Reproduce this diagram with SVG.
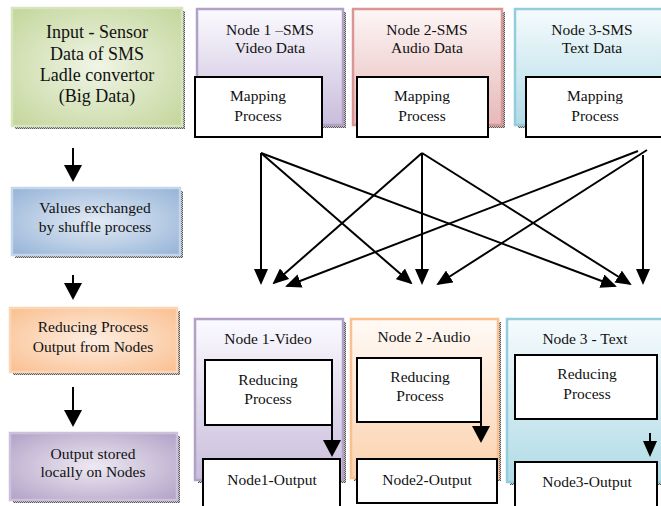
<svg xmlns="http://www.w3.org/2000/svg" width="661" height="506" viewBox="0 0 661 506">
<defs>
<pattern id="dots" width="2" height="2" patternUnits="userSpaceOnUse">
<rect width="2" height="2" fill="#c8c8c8"/><rect width="1" height="1" fill="#555"/><rect x="1" y="1" width="1" height="1" fill="#555"/>
</pattern>
<radialGradient id="gGreen" cx="0.5" cy="0.5" r="0.7"><stop offset="0" stop-color="#f0f5e6"/><stop offset="1" stop-color="#c3d69b"/></radialGradient>
<radialGradient id="gBlue" cx="0.5" cy="0.5" r="0.7"><stop offset="0" stop-color="#e3ebf5"/><stop offset="1" stop-color="#95b3d7"/></radialGradient>
<radialGradient id="gOrange" cx="0.5" cy="0.5" r="0.7"><stop offset="0" stop-color="#fdeee2"/><stop offset="1" stop-color="#fabf8f"/></radialGradient>
<radialGradient id="gPurple" cx="0.5" cy="0.5" r="0.7"><stop offset="0" stop-color="#ede9f2"/><stop offset="1" stop-color="#b2a1c7"/></radialGradient>
<linearGradient id="lPurple" x1="0" y1="0" x2="0" y2="1"><stop offset="0" stop-color="#fbfaff"/><stop offset="1" stop-color="#c9bddb"/></linearGradient>
<linearGradient id="lRed" x1="0" y1="0" x2="0" y2="1"><stop offset="0" stop-color="#fdf6f6"/><stop offset="1" stop-color="#e6b9b8"/></linearGradient>
<linearGradient id="lBlue" x1="0" y1="0" x2="0" y2="1"><stop offset="0" stop-color="#f6fbfd"/><stop offset="1" stop-color="#b0dbe6"/></linearGradient>
<linearGradient id="lOrange" x1="0" y1="0" x2="0" y2="1"><stop offset="0" stop-color="#fffaf6"/><stop offset="1" stop-color="#fbd1ad"/></linearGradient>
<marker id="ah" markerUnits="userSpaceOnUse" markerWidth="16" markerHeight="14" refX="14" refY="7" orient="auto"><path d="M0,0 L16,7 L0,14 z" fill="#000"/></marker>
<marker id="ahBig" markerUnits="userSpaceOnUse" markerWidth="17" markerHeight="18" refX="15" refY="9" orient="auto"><path d="M0,0 L17,9 L0,18 z" fill="#000"/></marker>
</defs>
<style>
text{font-family:"Liberation Serif","Times New Roman",serif;fill:#111;text-anchor:middle}
.big{font-size:18px}
.t{font-size:15.5px}
.shadow{fill:url(#dots)}
.wbox{fill:#fff;stroke:#000;stroke-width:2}
.conn{stroke:#000;stroke-width:2;fill:none}
</style>

<g id="input">
<rect class="shadow" x="15" y="11" width="170" height="118"/>
<rect x="12" y="8" width="170" height="118" fill="url(#gGreen)" stroke="#d7e4bc" stroke-width="2.5"/>
<text class="big" x="97" y="38">Input - Sensor</text>
<text class="big" x="97" y="60">Data of SMS</text>
<text class="big" x="97" y="81">Ladle convertor</text>
<text class="big" x="97" y="102">(Big Data)</text>
</g>

<g id="values">
<rect class="shadow" x="15" y="191" width="168" height="67"/>
<rect x="12" y="188" width="168" height="67" fill="url(#gBlue)" stroke="#c5d6ec" stroke-width="2.5"/>
<text class="t" x="95" y="213">Values exchanged</text>
<text class="t" x="95" y="232">by shuffle process</text>
</g>

<g id="reducing">
<rect class="shadow" x="13" y="311" width="167" height="64"/>
<rect x="10" y="308" width="167" height="64" fill="url(#gOrange)" stroke="#fcd5b5" stroke-width="2.5"/>
<text class="t" x="93" y="332">Reducing Process</text>
<text class="t" x="93" y="352">Output from Nodes</text>
</g>

<g id="output">
<rect class="shadow" x="13" y="436" width="167" height="67"/>
<rect x="10" y="433" width="167" height="67" fill="url(#gPurple)" stroke="#ccc1da" stroke-width="2.5"/>
<text class="t" x="93" y="459">Output stored</text>
<text class="t" x="93" y="477">locally on Nodes</text>
</g>

<g id="node1-map">
<rect class="shadow" x="200" y="12" width="146" height="116"/>
<rect x="197" y="9" width="146" height="116" fill="url(#lPurple)" stroke="#b2a1c7" stroke-width="2.5"/>
<text class="t" x="270" y="35">Node 1 –SMS</text>
<text class="t" x="270" y="53">Video Data</text>
<rect class="wbox" x="195" y="77" width="127" height="60"/>
<text class="t" x="258" y="101">Mapping</text>
<text class="t" x="258" y="121">Process</text>
</g>

<g id="node2-map">
<rect class="shadow" x="356" y="12" width="149" height="116"/>
<rect x="353" y="9" width="149" height="116" fill="url(#lRed)" stroke="#d99694" stroke-width="2.5"/>
<text class="t" x="427" y="35">Node 2-SMS</text>
<text class="t" x="427" y="53">Audio Data</text>
<rect class="wbox" x="357" y="77" width="131" height="60"/>
<text class="t" x="422" y="101">Mapping</text>
<text class="t" x="422" y="121">Process</text>
</g>

<g id="node3-map">
<rect class="shadow" x="518" y="12" width="150" height="116"/>
<rect x="515" y="9" width="150" height="116" fill="url(#lBlue)" stroke="#93cddd" stroke-width="2.5"/>
<text class="t" x="592" y="35">Node 3-SMS</text>
<text class="t" x="592" y="53">Text Data</text>
<rect class="wbox" x="526" y="77" width="140" height="60"/>
<text class="t" x="595" y="101">Mapping</text>
<text class="t" x="595" y="121">Process</text>
</g>

<g id="node1-red">
<rect class="shadow" x="198" y="322" width="148" height="161"/>
<rect x="195" y="319" width="148" height="161" fill="url(#lPurple)" stroke="#b2a1c7" stroke-width="2.5"/>
<text class="t" x="268" y="344">Node 1-Video</text>
<rect class="wbox" x="205" y="360" width="127" height="65"/>
<text class="t" x="268" y="385">Reducing</text>
<text class="t" x="268" y="404">Process</text>
<rect class="wbox" x="203" y="459" width="137" height="60"/>
<text class="t" x="272" y="485">Node1-Output</text>
</g>

<g id="node2-red">
<rect class="shadow" x="354" y="322" width="147" height="159"/>
<rect x="351" y="319" width="147" height="159" fill="url(#lOrange)" stroke="#fac090" stroke-width="2.5"/>
<text class="t" x="424" y="342">Node 2 -Audio</text>
<rect class="wbox" x="357" y="358" width="124" height="64"/>
<text class="t" x="420" y="382">Reducing</text>
<text class="t" x="420" y="401">Process</text>
<rect class="wbox" x="357" y="459" width="140" height="44"/>
<text class="t" x="427" y="485">Node2-Output</text>
</g>

<g id="node3-red">
<rect class="shadow" x="510" y="322" width="160" height="163"/>
<rect x="507" y="319" width="160" height="163" fill="url(#lBlue)" stroke="#93cddd" stroke-width="2.5"/>
<text class="t" x="585" y="344">Node 3 - Text</text>
<rect class="wbox" x="515" y="355" width="142" height="64"/>
<text class="t" x="587" y="379">Reducing</text>
<text class="t" x="587" y="399">Process</text>
<rect class="wbox" x="515" y="462" width="142" height="50"/>
<text class="t" x="587" y="487">Node3-Output</text>
</g>

<g id="connectors">
<line class="conn" x1="73" y1="148" x2="73" y2="180" marker-end="url(#ahBig)"/>
<line class="conn" x1="73" y1="275" x2="73" y2="298" marker-end="url(#ahBig)"/>
<line class="conn" x1="73" y1="387" x2="73" y2="425" marker-end="url(#ahBig)"/>

<line class="conn" x1="261" y1="153" x2="261" y2="283" marker-end="url(#ah)"/>
<line class="conn" x1="261" y1="153" x2="411" y2="283" marker-end="url(#ah)"/>
<line class="conn" x1="261" y1="153" x2="615" y2="286" marker-end="url(#ah)"/>
<line class="conn" x1="422" y1="153" x2="422" y2="283" marker-end="url(#ah)"/>
<line class="conn" x1="422" y1="153" x2="274" y2="283" marker-end="url(#ah)"/>
<line class="conn" x1="422" y1="153" x2="630" y2="284" marker-end="url(#ah)"/>
<line class="conn" x1="638" y1="151" x2="287" y2="286" marker-end="url(#ah)"/>
<line class="conn" x1="647" y1="150" x2="438" y2="284" marker-end="url(#ah)"/>
<line class="conn" x1="643" y1="155" x2="643" y2="283" marker-end="url(#ah)"/>

<line class="conn" x1="332" y1="425" x2="332" y2="455" marker-end="url(#ahBig)"/>
<line class="conn" x1="481" y1="407" x2="481" y2="441" marker-end="url(#ahBig)"/>
<line class="conn" x1="650" y1="433" x2="650" y2="455" marker-end="url(#ah)"/>
</g>
</svg>
